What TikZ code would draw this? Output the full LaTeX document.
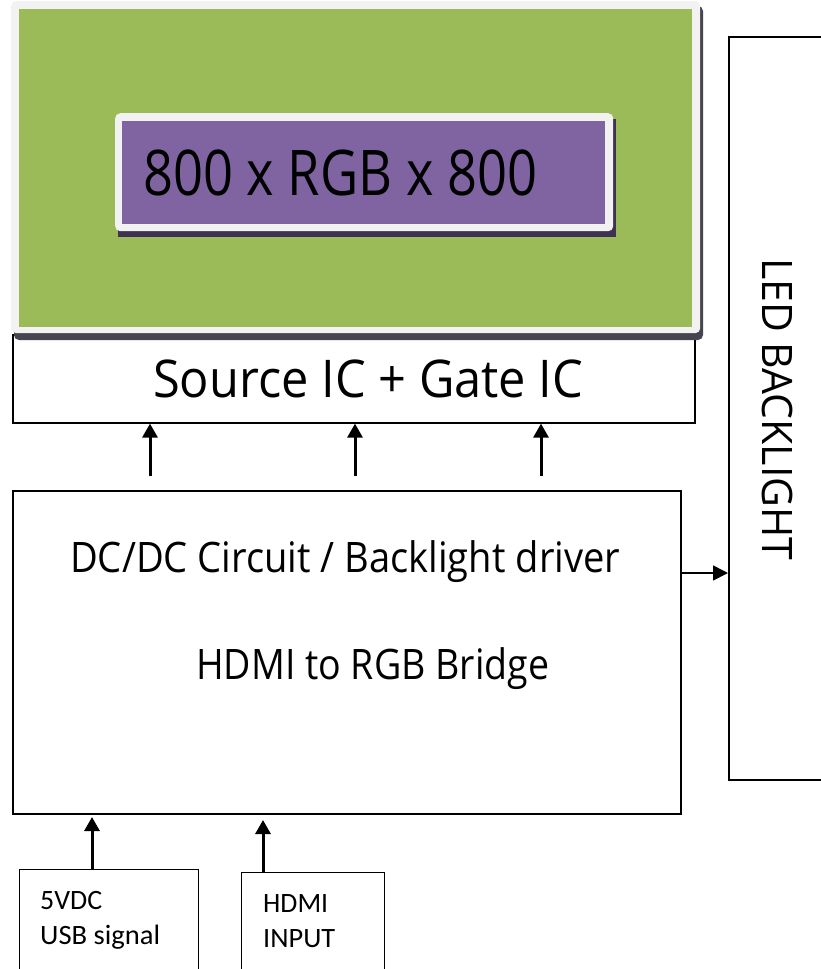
\documentclass[tikz,border=0pt]{standalone}
\usepackage{fontspec}
\setmainfont{Open Sans}
\newfontfamily\smallfont{Carlito}
\usetikzlibrary{arrows.meta,calc}
\definecolor{panelgreen}{HTML}{9BBB59}
\definecolor{framegray}{HTML}{F2F2F2}
\definecolor{panelshadow}{HTML}{45454F}
\definecolor{boxpurple}{HTML}{8064A2}
\definecolor{purpleshadow}{HTML}{3F3151}
\newcommand{\fitw}[3]{\resizebox{#1}{\height}{\fontsize{#2}{#2}\selectfont #3}}
\tikzset{
  box/.style={draw=black, line width=1.6pt, fill=white, rectangle, inner sep=0pt, anchor=north west},
  txt/.style={inner sep=0pt, anchor=base west},
  thickarr/.style={line width=3pt, -{Triangle[length=14pt,width=15pt]}},
  thinarr/.style={line width=1.6pt, -{Triangle[length=15pt,width=15pt]}},
}
\begin{document}
\begin{tikzpicture}[x=1pt,y=-1pt]
\useasboundingbox (0,0) rectangle (821,969);
\clip (0,0) rectangle (821,969);
\fill[white] (0,0) rectangle (821,969);

% Source IC box (drawn first, panel shadow overlaps its top)
\node[box, minimum width=682pt, minimum height=88pt] (source) at (12,334) {};
\node[txt] (sourcetxt) at (153,397) {\fitw{430pt}{52}{Source IC + Gate IC}};

% display panel
\fill[panelshadow, rounded corners=5pt] (14,6) rectangle (703,340);
\node[fill=framegray, rounded corners=5pt, inner sep=0pt, anchor=north west,
      minimum width=689pt, minimum height=332pt] (panel) at (11,1) {};
\fill[panelgreen] (19,9) rectangle (692,327);

% resolution box
\fill[purpleshadow] (118,119) rectangle (616,237);
\node[fill=framegray, rounded corners=5pt, inner sep=0pt, anchor=north west,
      minimum width=498pt, minimum height=118pt] (resframe) at (115,113) {};
\node[fill=boxpurple, inner sep=0pt, anchor=north west,
      minimum width=483pt, minimum height=103pt] (res) at (122,121) {};
\node[txt] (restxt) at (143,195) {\fitw{394pt}{63}{800 x RGB x 800}};

% LED backlight
\node[box, minimum width=110pt, minimum height=743pt] (led) at (728,36) {};
\node[txt, rotate=-90] (ledtxt) at (762,258) {\fitw{302pt}{42}{LED BACKLIGHT}};

% main board
\node[box, minimum width=668pt, minimum height=323pt] (main) at (12,490) {};
\node[txt] (dctxt) at (70,572) {\fitw{550pt}{42}{DC/DC Circuit / Backlight driver}};
\node[txt] (hdmitxt) at (196,679) {\fitw{353pt}{42}{HDMI to RGB Bridge}};

% inputs
\node[box, line width=1.3pt, minimum width=179pt, minimum height=130pt] (usb) at (19,869) {};
\node[txt] (usb1) at (40,909) {\smallfont\fitw{62pt}{28}{5VDC}};
\node[txt] (usb2) at (40,944) {\smallfont\fitw{120pt}{28}{USB signal}};
\node[box, line width=1.3pt, minimum width=143pt, minimum height=130pt] (hdmi) at (241,872) {};
\node[txt] (hdmi1) at (263,912) {\smallfont\fitw{65pt}{28}{HDMI}};
\node[txt] (hdmi2) at (263,947) {\smallfont\fitw{72pt}{28}{INPUT}};

% connectors
\coordinate (a1) at (150,476);
\coordinate (a2) at (355,476);
\coordinate (a3) at (541,476);
\draw[thickarr] (a1) -- (a1 |- source.south);
\draw[thickarr] (a2) -- (a2 |- source.south);
\draw[thickarr] (a3) -- (a3 |- source.south);

\coordinate (r1) at (680,573);
\draw[thinarr] (r1) -- (r1 -| led.west);

\coordinate (b1) at (92,817);
\coordinate (b2) at (263,820);
\draw[thickarr] (b1 |- usb.north) -- (b1);
\draw[thickarr] (b2 |- hdmi.north) -- (b2);
\end{tikzpicture}
\end{document}
